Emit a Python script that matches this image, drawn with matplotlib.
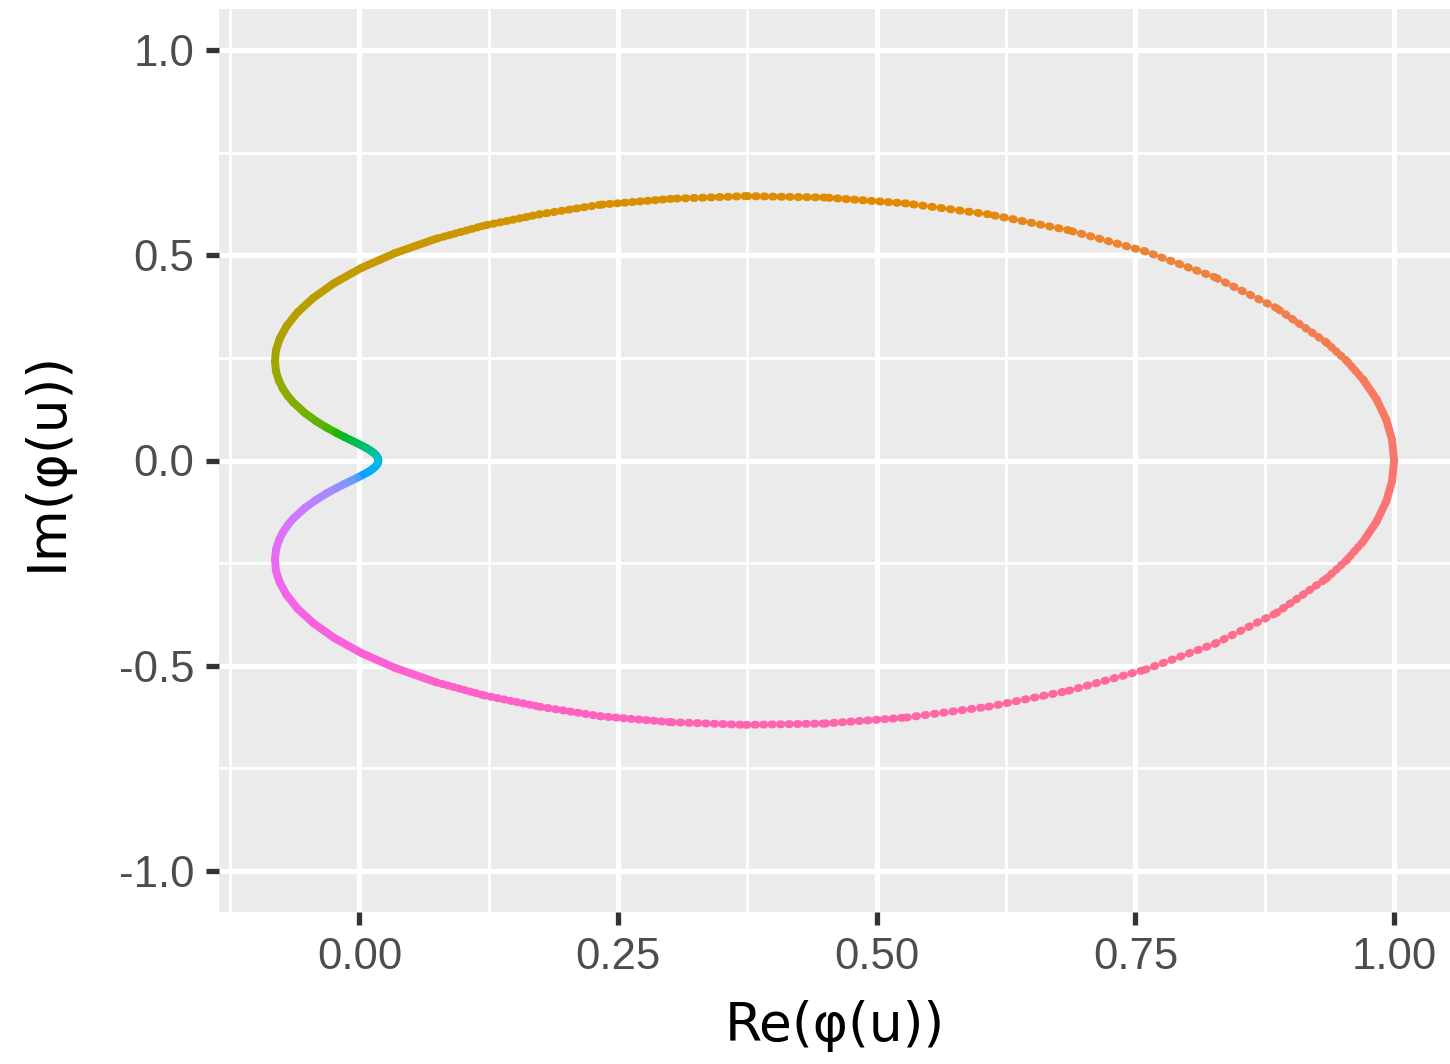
import numpy as np
import matplotlib
matplotlib.use('Agg')
import matplotlib.pyplot as plt
from matplotlib.collections import LineCollection

# argument u of phi(u) and the point, upper half (u in [0, pi])
u_upper = [0.0, 0.025, 0.05, 0.075, 0.1, 0.125, 0.15, 0.2, 0.25, 0.3, 0.35, 0.4, 0.45, 0.5,
           0.55, 0.6, 0.65, 0.7, 0.75, 0.8, 0.85, 0.9, 0.95, 1.0, 1.05, 1.1, 1.15, 1.2, 1.25,
           1.3, 1.35, 1.4, 1.45, 1.5, 1.6, 1.7, 1.8, 1.9, 2.0, 2.1, 2.2, 2.3, 2.4, 2.5, 2.6,
           2.7, 2.8, 2.9, 3.0, 3.1416]
re_upper = [1.0, 0.9981, 0.9925, 0.9832, 0.9704, 0.9541, 0.9344, 0.8861, 0.8270, 0.7594,
            0.6855, 0.6078, 0.5285, 0.4497, 0.3735, 0.3013, 0.2326, 0.1743, 0.1203, 0.0740,
            0.0345, 0.0019, -0.0243, -0.0446, -0.0598, -0.0704, -0.0772, -0.0808, -0.0817,
            -0.0806, -0.0779, -0.0741, -0.0694, -0.0642, -0.0530, -0.0419, -0.0316, -0.0224,
            -0.0144, -0.0076, -0.0019, 0.0028, 0.0068, 0.0100, 0.0125, 0.0146, 0.0161, 0.0172,
            0.0180, 0.0183]
im_upper = [0.0, 0.0499, 0.0995, 0.1485, 0.1964, 0.2430, 0.2879, 0.3718, 0.4462, 0.5096,
            0.5610, 0.5999, 0.6263, 0.6408, 0.6441, 0.6376, 0.6231, 0.6000, 0.5722, 0.5402,
            0.5054, 0.4692, 0.4325, 0.3963, 0.3612, 0.3278, 0.2965, 0.2674, 0.2408, 0.2166,
            0.1947, 0.1751, 0.1576, 0.1421, 0.1161, 0.0958, 0.0799, 0.0673, 0.0571, 0.0487,
            0.0417, 0.0356, 0.0302, 0.0254, 0.0209, 0.0167, 0.0128, 0.0089, 0.0052, 0.0]

# lower half (u in (pi, 2*pi])
u_lower = [3.2832, 3.3832, 3.4832, 3.5832, 3.6832, 3.7832, 3.8832, 3.9832, 4.0832, 4.1832,
           4.2832, 4.3832, 4.4832, 4.5832, 4.6832, 4.7832, 4.8332, 4.8832, 4.9332, 4.9832,
           5.0332, 5.0832, 5.1332, 5.1832, 5.2332, 5.2832, 5.3332, 5.3832, 5.4332, 5.4832,
           5.5332, 5.5832, 5.6332, 5.6832, 5.7332, 5.7832, 5.8332, 5.8832, 5.9332, 5.9832,
           6.0332, 6.0832, 6.1332, 6.1582, 6.1832, 6.2082, 6.2332, 6.2582, 6.2832]
re_lower = [0.0180, 0.0172, 0.0161, 0.0146, 0.0125, 0.0100, 0.0068, 0.0028, -0.0019, -0.0076,
            -0.0144, -0.0224, -0.0316, -0.0419, -0.0530, -0.0642, -0.0694, -0.0741, -0.0779,
            -0.0806, -0.0817, -0.0808, -0.0772, -0.0704, -0.0598, -0.0446, -0.0243, 0.0019,
            0.0345, 0.0740, 0.1203, 0.1743, 0.2326, 0.3013, 0.3735, 0.4497, 0.5285, 0.6078,
            0.6855, 0.7594, 0.8270, 0.8861, 0.9344, 0.9541, 0.9704, 0.9832, 0.9925, 0.9981, 1.0]
im_lower = [-0.0052, -0.0089, -0.0128, -0.0167, -0.0209, -0.0254, -0.0302, -0.0356, -0.0417,
            -0.0487, -0.0571, -0.0673, -0.0799, -0.0958, -0.1161, -0.1421, -0.1576, -0.1751,
            -0.1947, -0.2166, -0.2408, -0.2674, -0.2965, -0.3278, -0.3612, -0.3963, -0.4325,
            -0.4692, -0.5054, -0.5402, -0.5722, -0.6000, -0.6231, -0.6376, -0.6441, -0.6408,
            -0.6263, -0.5999, -0.5610, -0.5096, -0.4462, -0.3718, -0.2879, -0.2430, -0.1964,
            -0.1485, -0.0995, -0.0499, 0.0]

x_ticks = [0.0, 0.25, 0.5, 0.75, 1.0]
x_labels = ["0.00", "0.25", "0.50", "0.75", "1.00"]
y_ticks = [-1.0, -0.5, 0.0, 0.5, 1.0]
y_labels = ["-1.0", "-0.5", "0.0", "0.5", "1.0"]

DPI = 100
LW = 5.7  # point diameter in pt
DOT = 0.2  # length of each dot dash, in linewidths
# where the sampled points stand apart: (u from, u to, spacing in px), folded onto [0, pi]
dot_gaps = [(0.1, 0.125, 5.5), (0.125, 0.15, 6.5), (0.15, 0.2, 8.0), (0.2, 0.45, 9.3),
            (0.45, 0.6, 8.5), (0.6, 0.7, 7.6), (0.7, 0.75, 6.6), (0.75, 0.8, 5.8)]


def hcl_color(h, c=100.0, l=65.0):
    """ggplot-style hcl() -> rgb tuple (polar Luv, D65)"""
    hr = np.deg2rad(h)
    U, V = c * np.cos(hr), c * np.sin(hr)
    xn, yn, zn = 95.047, 100.0, 108.883
    Y = yn * ((l + 16) / 116) ** 3 if l > 8 else yn * l / 903.3
    un = 4 * xn / (xn + 15 * yn + 3 * zn)
    vn = 9 * yn / (xn + 15 * yn + 3 * zn)
    up = U / (13 * l) + un
    vp = V / (13 * l) + vn
    X = 9.0 * Y * up / (4 * vp)
    Z = -X / 3 - 5 * Y + 3 * Y / vp
    X, Y, Z = X / 100, Y / 100, Z / 100
    r = 3.240479 * X - 1.537150 * Y - 0.498535 * Z
    g = -0.969256 * X + 1.875992 * Y + 0.041556 * Z
    b = 0.055648 * X - 0.204043 * Y + 1.057311 * Z

    def gam(v):
        v = min(max(v, 0.0), 1.0)
        return 12.92 * v if v <= 0.0031308 else 1.055 * v ** (1 / 2.4) - 0.055
    return (gam(r), gam(g), gam(b))


u = np.array(u_upper + u_lower)
re = np.array(re_upper + re_lower)
im = np.array(im_upper + im_lower)

pts = np.column_stack([re, im])
segs = np.stack([pts[:-1], pts[1:]], axis=1)
u_mid = (u[:-1] + u[1:]) / 2

colors = [hcl_color(15 + 360 * m / (2 * np.pi)) for m in u_mid]
styles = []
for m in u_mid:
    f = min(m, 2 * np.pi - m)
    st = 'solid'
    for lo, hi, gap in dot_gaps:
        if lo <= f < hi:
            st = (0, (DOT, gap * 72 / DPI / LW - DOT))
    styles.append(st)

plt.rcParams['font.family'] = ['Liberation Sans', 'DejaVu Sans']

fig = plt.figure(figsize=(14.5, 10.64), dpi=DPI)
ax = fig.add_axes([219 / 1450, 1 - 912 / 1064, 1 - 219 / 1450, (912 - 9) / 1064])
ax.set_facecolor('#EBEBEB')

lc = LineCollection(segs, colors=colors, linewidths=LW, linestyles=styles,
                    capstyle='round', joinstyle='round', zorder=3)
ax.add_collection(lc)

pad = 0.05 * (re.max() - re.min())
ax.set_xlim(re.min() - pad, re.max() + pad)
ax.set_ylim(y_ticks[0] - 0.1, y_ticks[-1] + 0.1)

ax.set_xticks(x_ticks)
ax.set_xticklabels(x_labels)
ax.set_yticks(y_ticks)
ax.set_yticklabels(y_labels)
ax.set_xticks([-0.125, 0.125, 0.375, 0.625, 0.875], minor=True)
ax.set_yticks([-0.75, -0.25, 0.25, 0.75], minor=True)

ax.grid(True, which='major', color='white', linewidth=3.8)
ax.grid(True, which='minor', color='white', linewidth=1.9)
ax.set_axisbelow(True)
for spine in ax.spines.values():
    spine.set_visible(False)

ax.tick_params(which='major', length=9.4, width=3.8, color='#333333',
               labelsize=31.5, labelcolor='#4D4D4D', pad=8.5)
ax.tick_params(which='minor', length=0)

ax.set_xlabel('Re(φ(u))', fontsize=38.5, color='black', labelpad=16,
              family=['DejaVu Sans'])
ax.set_ylabel('Im(φ(u))', fontsize=38.5, color='black', labelpad=33,
              family=['DejaVu Sans'])

fig.savefig('out.png', dpi=DPI)
plt.close(fig)
